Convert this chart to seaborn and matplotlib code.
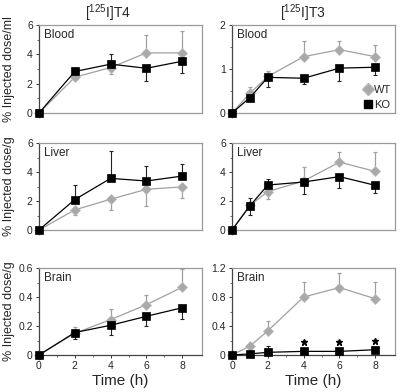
import numpy as np
import pandas as pd
import matplotlib
matplotlib.use("Agg")
import matplotlib.pyplot as plt
from matplotlib.ticker import FixedLocator, FuncFormatter
from matplotlib.lines import Line2D
import seaborn as sns

# ---------------- data ----------------
time_t4 = [0, 2, 4, 6, 8]
time_t3 = [0, 1, 2, 4, 6, 8]

t4_blood_wt = [0, 2.44, 3.10, 4.10, 4.10]
t4_blood_wt_lo = [0, 0, 0.45, 0, 0]
t4_blood_wt_hi = [0, 0, 0, 1.20, 1.50]
t4_blood_ko = [0, 2.83, 3.33, 3.05, 3.53]
t4_blood_ko_lo = [0, 0, 0, 0.90, 0.80]
t4_blood_ko_hi = [0, 0, 0.70, 0, 0]

t3_blood_wt = [0, 0.45, 0.83, 1.28, 1.44, 1.28]
t3_blood_wt_lo = [0, 0, 0, 0, 0, 0]
t3_blood_wt_hi = [0, 0.15, 0.13, 0.36, 0.20, 0.26]
t3_blood_ko = [0, 0.35, 0.81, 0.79, 1.02, 1.04]
t3_blood_ko_lo = [0, 0, 0.21, 0.13, 0.30, 0.18]
t3_blood_ko_hi = [0, 0, 0, 0, 0, 0]

t4_liver_wt = [0, 1.39, 2.12, 2.81, 2.97]
t4_liver_wt_lo = [0, 0.36, 0.75, 1.14, 0.73]
t4_liver_wt_hi = [0, 0, 0, 0, 0]
t4_liver_ko = [0, 2.10, 3.56, 3.38, 3.72]
t4_liver_ko_lo = [0, 0, 0, 0, 0]
t4_liver_ko_hi = [0, 1.00, 1.90, 1.00, 0.85]

t3_liver_wt = [0, 1.70, 2.65, 3.38, 4.68, 4.04]
t3_liver_wt_lo = [0, 0, 0.53, 0, 0, 0]
t3_liver_wt_hi = [0, 0, 0, 0.96, 0.70, 1.35]
t3_liver_ko = [0, 1.67, 3.10, 3.31, 3.68, 3.08]
t3_liver_ko_lo = [0, 0.62, 0, 0.84, 0.80, 0.50]
t3_liver_ko_hi = [0, 0.57, 0.40, 0, 0, 0]

t4_brain_wt = [0, 0.150, 0.244, 0.347, 0.468]
t4_brain_wt_lo = [0, 0, 0, 0, 0]
t4_brain_wt_hi = [0, 0.044, 0.076, 0.070, 0.125]
t4_brain_ko = [0, 0.155, 0.205, 0.267, 0.326]
t4_brain_ko_lo = [0, 0.045, 0.065, 0.065, 0.075]
t4_brain_ko_hi = [0, 0, 0, 0, 0]

t3_brain_wt = [0, 0.123, 0.333, 0.800, 0.930, 0.776]
t3_brain_wt_lo = [0, 0, 0, 0, 0, 0]
t3_brain_wt_hi = [0, 0, 0.13, 0.21, 0.20, 0.23]
t3_brain_ko = [0, 0.015, 0.037, 0.050, 0.050, 0.073]
t3_brain_ko_lo = [0, 0, 0, 0, 0, 0]
t3_brain_ko_hi = [0, 0, 0.09, 0, 0, 0]

star_x = [4, 6, 8]
star_y = [0.18, 0.18, 0.20]

column_titles = [r"[$^{125}$I]T4", r"[$^{125}$I]T3"]
row_names = ["Blood", "Liver", "Brain"]
row_ylabels = ["% Injected dose/ml", "% Injected dose/g", "% Injected dose/g"]
yticks_t4 = [[0, 2, 4, 6], [0, 2, 4, 6], [0, 0.2, 0.4, 0.6]]
yticks_t3 = [[0, 1, 2], [0, 2, 4, 6], [0, 0.4, 0.8, 1.2]]
xticks = [0, 2, 4, 6, 8]
groups = ["WT", "KO"]

# ---------------- style ----------------
sns.set_style("white")
plt.rcParams["font.family"] = ["Liberation Sans", "DejaVu Sans"]
plt.rcParams["mathtext.fontset"] = "custom"
plt.rcParams["mathtext.rm"] = "Liberation Sans"

GRAY = "#a9a9a9"
GRAY_LINE = "#a0a0a0"
BLACK = "#000000"
FRAME = "#9a9a9a"

fig = plt.figure(figsize=(4.01, 3.92), dpi=100)
W, H = 401.0, 392.0
col_x = [39, 232]
col_w = 163
row_y = [(25, 113), (143, 230), (268, 355)]

panels = [
    [(time_t4, t4_blood_wt, t4_blood_wt_lo, t4_blood_wt_hi, t4_blood_ko, t4_blood_ko_lo, t4_blood_ko_hi),
     (time_t3, t3_blood_wt, t3_blood_wt_lo, t3_blood_wt_hi, t3_blood_ko, t3_blood_ko_lo, t3_blood_ko_hi)],
    [(time_t4, t4_liver_wt, t4_liver_wt_lo, t4_liver_wt_hi, t4_liver_ko, t4_liver_ko_lo, t4_liver_ko_hi),
     (time_t3, t3_liver_wt, t3_liver_wt_lo, t3_liver_wt_hi, t3_liver_ko, t3_liver_ko_lo, t3_liver_ko_hi)],
    [(time_t4, t4_brain_wt, t4_brain_wt_lo, t4_brain_wt_hi, t4_brain_ko, t4_brain_ko_lo, t4_brain_ko_hi),
     (time_t3, t3_brain_wt, t3_brain_wt_lo, t3_brain_wt_hi, t3_brain_ko, t3_brain_ko_lo, t3_brain_ko_hi)],
]

fmt = FuncFormatter(lambda v, p: "{:g}".format(v))

for r in range(3):
    for c in range(2):
        x, wt, wt_lo, wt_hi, ko, ko_lo, ko_hi = panels[r][c]
        y0, y1 = row_y[r]
        ax = fig.add_axes([col_x[c] / W, 1 - y1 / H, col_w / W, (y1 - y0) / H])
        df = pd.DataFrame({
            "time": list(x) * 2,
            "value": list(wt) + list(ko),
            "group": ["WT"] * len(x) + ["KO"] * len(x),
        })
        # error bars
        ax.errorbar(x, wt, yerr=[wt_lo, wt_hi], fmt="none", ecolor=GRAY_LINE,
                    elinewidth=0.9, capsize=1.2, capthick=0.9, zorder=1.5, clip_on=False)
        ax.errorbar(x, ko, yerr=[ko_lo, ko_hi], fmt="none", ecolor="#222222",
                    elinewidth=0.8, capsize=1.2, capthick=0.8, zorder=2.5, clip_on=False)
        sub_wt = df[df.group == "WT"]
        sub_ko = df[df.group == "KO"]
        sns.lineplot(data=sub_wt, x="time", y="value", ax=ax, color=GRAY_LINE,
                     marker="D", markersize=5.2, markerfacecolor=GRAY,
                     markeredgecolor="#b8b8b8", markeredgewidth=0.5,
                     linewidth=0.9, errorbar=None, legend=False, clip_on=False, zorder=2)
        sns.lineplot(data=sub_ko, x="time", y="value", ax=ax, color=BLACK,
                     marker="s", markersize=5.2, markerfacecolor=BLACK,
                     markeredgecolor=BLACK, markeredgewidth=0.5,
                     linewidth=0.9, errorbar=None, legend=False, clip_on=False, zorder=3)

        yt = yticks_t4[r] if c == 0 else yticks_t3[r]
        ax.set_xlim(0, 9.1)
        ax.set_ylim(yt[0], yt[-1])
        ax.yaxis.set_major_locator(FixedLocator(yt))
        step = yt[1] - yt[0]
        ax.yaxis.set_minor_locator(FixedLocator([v + step / 2 for v in yt[:-1]]))
        ax.yaxis.set_major_formatter(fmt)
        ax.tick_params(axis="y", which="major", length=2.5, width=0.7, pad=2,
                       labelsize=7.5, color="#333333", left=True)
        ax.tick_params(axis="y", which="minor", length=1.5, width=0.6, color="#555555", left=True)

        for side in ["top", "right", "bottom"]:
            ax.spines[side].set_color(FRAME)
            ax.spines[side].set_linewidth(0.9)
        ax.spines["left"].set_color("#444444")
        ax.spines["left"].set_linewidth(0.9)

        if r == 2:
            ax.xaxis.set_major_locator(FixedLocator(xticks))
            ax.xaxis.set_minor_locator(FixedLocator([1, 3, 5, 7]))
            ax.tick_params(axis="x", which="major", length=2.5, width=0.7, pad=2,
                           labelsize=7.5, color="#333333", bottom=True)
            ax.tick_params(axis="x", which="minor", length=1.5, width=0.6,
                           color="#555555", bottom=True)
            ax.spines["bottom"].set_color("#444444")
            ax.set_xlabel("Time (h)", fontsize=11, labelpad=2)
        else:
            ax.set_xticks([])
            ax.set_xlabel("")
        ax.set_ylabel("")

        ax.text(0.03, 0.955, row_names[r], transform=ax.transAxes, fontsize=8.5,
                ha="left", va="top")

        if r == 0 and c == 1:
            handles = [
                Line2D([], [], linestyle="none", marker="D", markersize=6,
                       markerfacecolor=GRAY, markeredgecolor="#b8b8b8", color=GRAY),
                Line2D([], [], linestyle="none", marker="s", markersize=6,
                       markerfacecolor=BLACK, markeredgecolor=BLACK, color=BLACK),
            ]
            ax.legend(handles, groups, loc="lower right", frameon=False, fontsize=8,
                      handlelength=0.8, handletextpad=0.2, borderaxespad=0.1,
                      borderpad=0.2, labelspacing=0.4)
        if r == 2 and c == 1:
            ax.plot(star_x, star_y, linestyle="none", marker="*", markersize=5,
                    color=BLACK, zorder=4)

fig.text(108 / W, 1 - 13 / H, column_titles[0], ha="center", va="center", fontsize=10)
fig.text(303 / W, 1 - 13 / H, column_titles[1], ha="center", va="center", fontsize=10)
for r in range(3):
    y0, y1 = row_y[r]
    fig.text(9 / W, 1 - (y0 + y1) / 2 / H, row_ylabels[r], rotation=90,
             ha="center", va="center", fontsize=9)

fig.savefig("out.png", dpi=100, facecolor="white")
